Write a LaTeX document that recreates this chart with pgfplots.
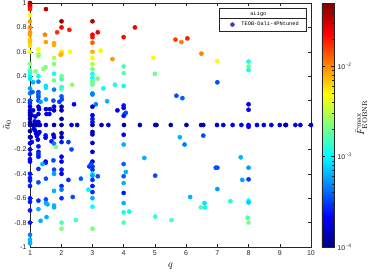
\documentclass[border=0pt]{standalone}
\usepackage{pgfplots}
\pgfplotsset{compat=1.18}
\usepackage{pgfplotstable}
\usepackage{fontspec}
\setsansfont{Liberation Sans}
\setmonofont{Liberation Mono}
\definecolor{axgray}{rgb}{0.15,0.15,0.15}
\definecolor{legmark}{rgb}{0.24,0.24,0.72}
% q, a0 (tilde), c = log10 of F^max_EOBNR
\pgfplotstableread{
q a c
1 1.00 -1.30
1 0.99 -1.44
1 0.98 -1.49
1 0.97 -1.57
1 0.96 -1.62
1 0.95 -1.71
1 0.90 -2.33
1 0.85 -2.06
1 0.80 -1.98
1 0.76 -2.03
1 0.74 -2.06
1 0.70 -2.16
1 0.68 -2.16
1 0.65 -2.22
1 0.60 -2.38
1 0.50 -2.65
1 0.45 -2.73
1 0.44 -2.81
1 0.42 -2.87
1 0.40 -2.97
1 0.38 -3.06
1 0.30 -3.24
1 0.26 -3.33
1 0.20 -3.46
1 0.18 -3.54
1 0.15 -3.73
1 0.12 -3.78
1 0.10 -3.87
1 0.08 -3.89
1 0.05 -3.89
1 0.02 -3.92
1 0.00 -3.95
1 -0.05 -3.92
1 -0.10 -3.87
1 -0.15 -3.78
1 -0.20 -3.73
1 -0.24 -3.68
1 -0.28 -3.68
1 -0.30 -3.73
1 -0.40 -3.60
1 -0.435 -3.60
1 -0.455 -3.60
1 -0.50 -3.60
1 -0.60 -3.60
1 -0.63 -3.60
1 -0.70 -3.60
1 -0.80 -3.60
1 -0.90 -3.33
1 -0.94 -3.19
1 -0.96 -3.19
1 -0.97 -3.19
1.51 0.95 -1.44
2.01 0.85 -1.38
2.01 0.80 -1.62
2.26 0.78 -1.71
1.87 0.76 -1.76
1.48 0.74 -1.98
1.51 0.68 -2.06
1.77 0.67 -2.06
1.77 0.655 -2.11
1.27 0.62 -2.30
2.01 0.60 -2.25
2.01 0.58 -2.19
1.98 0.575 -2.11
2.28 0.60 -2.33
1.27 0.58 -2.52
1.27 0.565 -2.60
1.77 0.55 -2.52
1.77 0.50 -2.65
1.43 0.46 -2.60
1.18 0.44 -2.65
1.50 0.475 -2.65
1.27 0.40 -2.97
1.77 0.42 -2.97
2.01 0.40 -2.70
2.01 0.375 -2.79
1.77 0.365 -2.70
2.35 0.33 -2.60
1.27 0.355 -3.33
1.51 0.32 -3.06
1.51 0.305 -3.06
2.01 0.31 -2.97
2.01 0.295 -2.79
1.77 0.29 -3.33
2.01 0.235 -3.41
1.27 0.27 -3.46
1.27 0.25 -3.41
1.27 0.23 -3.46
1.27 0.20 -3.46
1.51 0.21 -3.24
1.34 0.19 -3.24
1.75 0.20 -3.46
1.94 0.19 -3.51
2.02 0.21 -3.46
2.41 0.17 -3.68
1.27 0.15 -3.73
1.29 0.13 -3.73
1.51 0.13 -3.78
1.64 0.13 -3.73
1.77 0.15 -3.73
1.77 0.12 -3.78
2.01 0.15 -3.87
2.01 0.12 -3.87
1.53 0.09 -3.73
1.62 0.09 -3.73
1.27 0.09 -3.78
1.17 0.07 -3.73
2.01 0.05 -3.92
1.15 0.03 -3.73
1.27 0.025 -3.78
1.10 0.35 -3.19
1.08 0.27 -3.41
1.10 0.12 -3.73
1.05 0.08 -3.84
3.00 0.85 -1.44
3.00 0.74 -1.62
3.00 0.72 -1.65
3.17 0.76 -1.62
3.00 0.675 -1.89
3.00 0.60 -2.11
3.26 0.61 -2.30
3.00 0.55 -2.30
3.00 0.50 -2.52
3.00 0.46 -2.65
3.00 0.42 -2.92
3.00 0.385 -2.97
3.00 0.36 -2.70
3.00 0.345 -2.70
3.00 0.33 -2.70
3.17 0.38 -2.65
3.35 0.30 -2.97
3.00 0.26 -3.19
3.00 0.25 -3.33
3.47 0.195 -3.19
3.11 0.17 -3.33
3.00 0.15 -3.78
3.00 0.08 -3.68
3.00 0.05 -3.60
3.00 0.025 -3.60
3.64 0.54 -2.03
3.72 0.33 -2.92
3.80 0.12 -3.68
4.00 0.72 -1.65
4.36 0.80 -1.62
4.00 0.48 -2.79
4.00 0.425 -2.73
4.00 0.32 -2.97
4.00 0.16 -3.60
4.00 0.14 -3.68
4.03 0.09 -3.46
4.07 0.10 -3.46
4.00 0.075 -3.60
4.95 0.55 -2.30
5.00 0.42 -2.70
5.66 0.70 -1.79
5.85 0.68 -1.98
6.04 0.71 -1.71
5.69 0.24 -3.46
5.88 0.22 -3.41
6.49 0.585 -1.98
7.00 0.525 -2.33
8.00 0.52 -2.92
8.00 0.48 -2.70
8.00 0.45 -2.92
7.00 0.35 -3.46
8.00 0.17 -3.73
8.00 0.125 -3.68
5.80 -0.10 -3.19
6.55 -0.087 -3.46
5.95 -0.16 -3.33
7.75 -0.265 -3.19
6.95 -0.35 -3.46
7.00 -0.35 -3.46
8.00 -0.35 -3.24
7.80 -0.45 -3.24
8.00 -0.445 -3.51
7.00 -0.525 -3.24
6.13 -0.59 -3.19
6.59 -0.64 -3.06
6.47 -0.675 -2.79
6.60 -0.675 -2.97
7.42 -0.625 -2.92
8.00 -0.62 -2.97
8.00 -0.635 -3.11
7.97 -0.76 -2.79
8.00 -0.80 -2.65
1.10 0 -3.89
1.20 0 -3.87
1.27 0 -3.84
1.32 0 -3.84
1.51 0 -3.73
1.77 0 -3.84
2.01 0 -3.92
2.33 0 -3.73
2.51 0 -3.73
3.00 0 -3.92
3.29 0 -3.84
3.51 0 -3.78
4.01 0 -3.92
4.52 0 -3.87
5.01 0 -3.89
5.05 0 -3.84
5.51 0 -3.87
6.01 0 -3.89
6.48 0 -3.87
6.55 0 -3.84
6.99 0 -3.73
7.19 0 -3.70
7.49 0 -3.70
7.77 0 -3.73
8.00 0 -3.78
8.00 -0.015 -3.68
8.27 0 -3.70
8.49 0 -3.70
8.73 0 -3.73
9.00 0 -3.73
9.18 0 -3.87
9.20 0 -3.84
9.50 0 -3.73
9.66 0 -3.73
10.0 0 -3.78
1.16 -0.044 -3.87
1.19 -0.066 -3.73
1.27 -0.07 -3.78
1.30 -0.058 -3.73
1.02 -0.10 -3.92
1.50 -0.085 -3.60
1.50 -0.104 -3.68
1.75 -0.08 -3.73
1.77 -0.10 -3.73
2.01 -0.10 -3.89
2.01 -0.066 -3.84
2.01 -0.14 -3.60
1.69 -0.134 -3.60
1.77 -0.153 -3.33
1.83 -0.18 -2.65
2.23 -0.14 -3.51
2.33 -0.20 -3.46
1.27 -0.175 -3.60
1.27 -0.22 -3.60
1.27 -0.24 -3.54
1.27 -0.26 -3.60
1.50 -0.30 -3.73
1.50 -0.31 -3.60
1.40 -0.32 -3.19
1.75 -0.29 -3.46
2.01 -0.26 -3.68
2.01 -0.30 -3.73
1.27 -0.36 -3.54
1.77 -0.366 -3.46
1.77 -0.40 -3.24
2.01 -0.366 -3.60
2.01 -0.40 -3.68
1.51 -0.44 -3.46
1.27 -0.47 -3.46
2.23 -0.45 -3.54
2.63 -0.44 -3.41
2.01 -0.50 -3.54
2.01 -0.53 -3.33
1.77 -0.54 -3.19
2.87 -0.53 -3.00
2.37 -0.59 -3.46
2.01 -0.60 -3.54
1.27 -0.62 -3.54
1.51 -0.61 -3.46
1.51 -0.64 -3.19
1.56 -0.65 -3.19
1.77 -0.66 -3.19
1.77 -0.675 -3.19
1.27 -0.69 -3.19
1.53 -0.755 -3.19
1.34 -0.785 -3.19
2.01 -0.80 -2.79
2.01 -0.85 -2.65
2.47 -0.78 -2.79
3.00 -0.057 -3.84
3.00 -0.077 -3.84
3.00 -0.147 -3.84
3.00 -0.22 -3.78
3.00 -0.30 -3.78
3.00 -0.34 -3.54
2.90 -0.34 -3.54
2.95 -0.32 -3.46
3.00 -0.366 -3.54
3.00 -0.40 -2.97
3.00 -0.415 -3.24
3.17 -0.42 -3.46
3.00 -0.45 -3.54
3.00 -0.50 -3.60
3.00 -0.55 -3.54
3.00 -0.60 -3.19
3.00 -0.67 -2.97
3.00 -0.85 -2.65
4.00 -0.08 -3.68
4.00 -0.16 -3.19
4.00 -0.32 -3.41
4.07 -0.385 -3.19
4.00 -0.42 -3.41
4.00 -0.476 -3.19
4.00 -0.557 -3.60
4.00 -0.64 -3.19
4.00 -0.716 -2.97
4.18 -0.71 -2.97
4.00 -0.80 -2.79
4.66 -0.27 -3.19
5.01 -0.415 -3.46
5.01 -0.75 -2.87
5.53 -0.78 -2.79
1.12 -0.03 -3.73
1.22 -0.09 -3.68
1.25 -0.12 -3.73
1.06 -0.14 -3.68
}\datatable
\begin{document}
\begin{tikzpicture}
\begin{axis}[
  scale only axis, width=281pt, height=244pt,
  xmin=1, xmax=10, ymin=-1, ymax=1,
  xtick={1,2,3,4,5,6,7,8,9,10},
  ytick={-1,-0.8,-0.6,-0.4,-0.2,0,0.2,0.4,0.6,0.8,1},
  yticklabel style={/pgf/number format/fixed},
  /pgf/number format/assume math mode=true,
  tick align=inside, major tick length=3pt,
  axis line style={axgray, line width=0.4pt},
  every tick/.style={axgray, line width=0.4pt},
  ticklabel style={font=\sffamily\fontsize{7}{8}\selectfont, text=axgray},
  xlabel={$q$}, ylabel={$\tilde{a}_0$},
  label style={font=\normalsize},
  xlabel style={at={(axis description cs:0.5,-0.078)}, anchor=center},
  ylabel style={at={(axis description cs:-0.082,0.5)}, anchor=center, rotate=0},
  colormap/jet,
  point meta min=-4, point meta max=-1.3,
  colorbar,
  colorbar shift/.style={xshift=11pt},
  colorbar style={
    at={(parent axis.north east)}, anchor=north west,
    scale only axis, width=12pt, height=244pt,
    ytick={-4,-3,-2},
    yticklabels={10\textsuperscript{ -4},10\textsuperscript{ -3},10\textsuperscript{ -2}},
    minor ytick={-3.699,-3.523,-3.398,-3.301,-3.222,-3.155,-3.097,-3.046,
                 -2.699,-2.523,-2.398,-2.301,-2.222,-2.155,-2.097,-2.046,
                 -1.699,-1.523,-1.398},
    tick align=inside, major tick length=3pt, minor tick length=1.5pt,
    axis line style={axgray, line width=0.4pt},
    every tick/.style={axgray, line width=0.4pt},
    yticklabel style={font=\sffamily\fontsize{7}{8}\selectfont, text=axgray},
    ylabel={$\bar{F}^{\max}_{\mathrm{EOBNR}}$},
    ylabel style={at={(axis description cs:3.3,0.53)}, anchor=center, rotate=0, font=\normalsize},
  },
  legend style={at={(0.982,0.98)}, anchor=north east,
    font=\ttfamily\fontsize{5.3}{6}\selectfont, draw=axgray, line width=0.4pt,
    inner xsep=5pt, inner ysep=1.5pt, row sep=1pt, column sep=5pt, name=leg},
  legend cell align=left,
]
\addplot[scatter, only marks, mark=*, mark size=2.1pt, scatter src=explicit,
  scatter/use mapped color={draw=mapped color, fill=mapped color}, forget plot]
  table[x=q, y=a, meta=c] {\datatable};
\addlegendimage{empty legend}
\addlegendentry{\hspace*{9pt}aLigo}
\addlegendimage{only marks, mark=*, mark size=2pt, color=legmark}
\addlegendentry{TEOB-Dali-4PNtuned}
\end{axis}
\draw[axgray, line width=0.4pt] ([yshift=-10.5pt]leg.north west) -- ([yshift=-10.5pt]leg.north east);
\pgfresetboundingbox
\path[use as bounding box] (-30pt,-24pt) rectangle (344pt,247pt);
\end{tikzpicture}
\end{document}
